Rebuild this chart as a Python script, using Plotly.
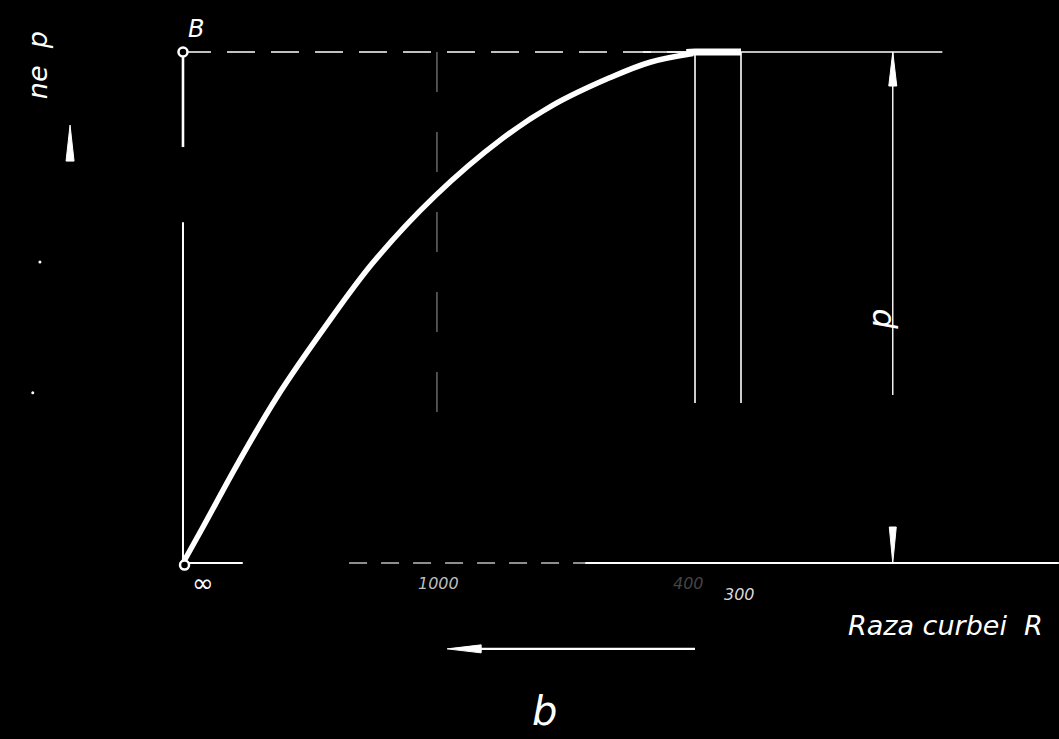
import plotly.graph_objects as go

# ---- data (normalised: p = 1 at the B level, x in the same unit) ----
curve_x = [0.0, 0.040, 0.108, 0.184, 0.278, 0.372, 0.493, 0.624, 0.724, 0.836, 0.914, 0.998]
curve_y = [0.0, 0.072, 0.196, 0.325, 0.462, 0.588, 0.718, 0.830, 0.896, 0.950, 0.980, 0.997]
flat_x = [0.985, 1.002, 1.092]
flat_y = [0.999, 1.0, 1.0]

r_tick_labels = ["∞", "1000", "400", "300"]
r_tick_pos = [0.04, 0.50, 0.99, 1.09]
r_tick_colors = ["white", "#bdbdbd", "#444444", "#d9d9d9"]

p_level = 1.0
x_r1000 = 0.497
x_r400 = 1.002
x_r300 = 1.092
x_dim = 1.389
x_axis_end = 1.714

PX = 511.0  # screen pixels per unit on both axes

fig = go.Figure()


def line(xs, ys, width=1.6, color="white", dash=None):
    fig.add_trace(go.Scatter(x=xs, y=ys, mode="lines", hoverinfo="skip",
                             line=dict(color=color, width=width, dash=dash)))


def arrowhead(tx, ty, direction, length_px, width_px, color="white"):
    L = length_px / PX
    W = width_px / PX / 2
    if direction == "up":
        xs = [tx, tx - W, tx + W, tx]
        ys = [ty, ty - L, ty - L, ty]
    elif direction == "down":
        xs = [tx, tx - W, tx + W, tx]
        ys = [ty, ty + L, ty + L, ty]
    else:  # left
        xs = [tx, tx + L, tx + L, tx]
        ys = [ty, ty + W, ty - W, ty]
    fig.add_trace(go.Scatter(x=xs, y=ys, mode="lines", fill="toself",
                             fillcolor=color, hoverinfo="skip",
                             line=dict(color=color, width=1)))


# left vertical (ordinate) with a gap
line([0, 0], [p_level, 0.814], width=2.6)
line([0, 0], [0.667, 0], width=2.0)

# top dashed line at level p
line([0, x_r400], [p_level, p_level], width=1.6, dash="28px,16px")
line([0.90, 1.486], [p_level, p_level], width=1.6)

# abscissa with faded part
line([0, 0.117], [0, 0], width=2.0)
line([0.325, 0.787], [0, 0], width=1.4, color="#bdbdbd", dash="18px,14px")
line([0.787, x_axis_end], [0, 0], width=2.0)

# verticals
line([x_r1000, x_r1000], [p_level, 0.29], width=1.0, color="#9a9a9a", dash="40px,40px")
line([x_r400, x_r400], [p_level, 0.313], width=1.6)
line([x_r300, x_r300], [p_level, 0.313], width=1.6)

# dimension line p
line([x_dim, x_dim], [p_level, 0.329], width=1.4)
arrowhead(x_dim, p_level, "up", 34, 8)
arrowhead(x_dim, 0.0, "down", 36, 7)

# main curve
fig.add_trace(go.Scatter(x=curve_x, y=curve_y, mode="lines", hoverinfo="skip",
                         line=dict(color="white", width=5.5, shape="spline", smoothing=1.0)))
fig.add_trace(go.Scatter(x=flat_x, y=flat_y, mode="lines", hoverinfo="skip",
                         line=dict(color="white", width=7)))

# end points
fig.add_trace(go.Scatter(x=[0, 0.003], y=[p_level, -0.004], mode="markers", hoverinfo="skip",
                         marker=dict(size=9, color="black", line=dict(color="white", width=2.5))))

# direction arrow under the axis
line([1.002, 0.56], [-0.168, -0.168], width=2.4)
arrowhead(0.517, -0.168, "left", 34, 8)

# small arrow at left
arrowhead(-0.221, 0.857, "up", 36, 8)
fig.add_trace(go.Scatter(x=[-0.28, -0.294], y=[0.589, 0.333], mode="markers", hoverinfo="skip",
                         marker=dict(size=3, color="white")))

ann = []
font_main = "DejaVu Sans"
for lab, xp, col in zip(r_tick_labels, r_tick_pos, r_tick_colors):
    size = 26 if lab == "∞" else 16
    ypos = -0.040 if lab in ("∞", "1000", "400") else -0.062
    ann.append(dict(x=xp, y=ypos, text=f"<i>{lab}</i>" if lab != "∞" else lab, showarrow=False,
                    font=dict(size=size, color=col, family=font_main)))
ann += [
    dict(x=0.026, y=1.045, text="<i>B</i>", showarrow=False,
         font=dict(size=24, color="white", family=font_main)),
    dict(x=1.493, y=-0.122, text="<i>Raza curbei  R</i>", showarrow=False,
         font=dict(size=27, color="white", family=font_main)),
    dict(x=0.708, y=-0.29, text="<i>b</i>", showarrow=False,
         font=dict(size=40, color="white", family=font_main)),
    dict(x=1.364, y=0.476, text="<i>p</i>", showarrow=False, textangle=-90,
         font=dict(size=32, color="white", family=font_main)),
    dict(x=-0.285, y=0.975, text="<i>ne  p</i>", showarrow=False, textangle=-90,
         font=dict(size=27, color="white", family=font_main)),
]

fig.update_layout(
    width=1059, height=739, autosize=False,
    margin=dict(l=0, r=0, t=0, b=0),
    paper_bgcolor="black", plot_bgcolor="black",
    showlegend=False,
    xaxis=dict(range=[-0.3581, 1.7143], visible=False, fixedrange=True),
    yaxis=dict(range=[-0.3444, 1.1018], visible=False, fixedrange=True),
    annotations=ann,
)

fig.write_html("out.html", config={"displayModeBar": False},
               post_script="document.body.style.margin='0';document.body.style.background='black';")
